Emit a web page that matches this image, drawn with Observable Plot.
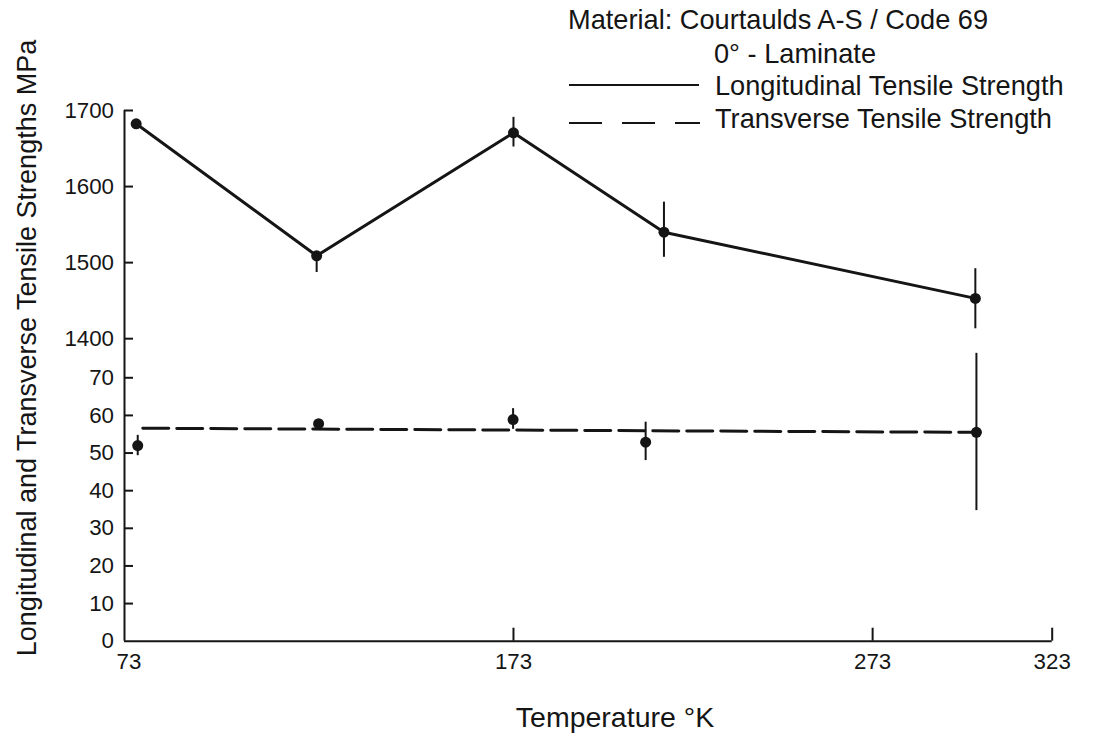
<!DOCTYPE html>
<html>
<head>
<meta charset="utf-8">
<script src="https://cdn.jsdelivr.net/npm/d3@7"></script>
<script src="https://cdn.jsdelivr.net/npm/@observablehq/plot@0.6"></script>
<style>
  body { margin: 0; background: #fff; }
  #wrap { position: relative; width: 1109px; height: 738px; font-family: "Liberation Sans", Arial, sans-serif; }
  #overlay { position: absolute; left: 0; top: 0; pointer-events: none; }
</style>
</head>
<body>
<div id="wrap">
  <div id="chart"></div>
  <svg id="overlay" width="1109" height="738" font-family="Liberation Sans, Arial, sans-serif" fill="#151515">
    <text x="568" y="29" font-size="27.2">Material: Courtaulds A-S / Code 69</text>
    <text x="714" y="63" font-size="27.2">0° - Laminate</text>
    <line x1="569" x2="699" y1="85" y2="85" stroke="#151515" stroke-width="2"></line>
    <text x="715" y="95" font-size="27.2">Longitudinal Tensile Strength</text>
    <line x1="569" x2="700" y1="123" y2="123" stroke="#151515" stroke-width="2" stroke-dasharray="33 20"></line>
    <text x="715" y="128" font-size="27.2">Transverse Tensile Strength</text>
    <text x="615" y="727" font-size="28.5" text-anchor="middle">Temperature °K</text>
    <text transform="translate(36,348) rotate(-90)" font-size="27" text-anchor="middle">Longitudinal and Transverse Tensile Strengths MPa</text>
  </svg>
</div>
<script>
// ---- data ----
const tempsLong = [76.0, 122.4, 173.0, 214.9, 301.6];          // K
const longStrength = [1682.5, 1509, 1670.7, 1540, 1453];       // MPa
const longLow = [1682.5, 1487, 1652, 1507, 1413];
const longHigh = [1682.5, 1512, 1691, 1579.5, 1492];

const tempsTrans = [76.4, 122.9, 172.9, 209.8, 301.9];         // K
const transStrength = [52.0, 57.8, 58.9, 52.9, 55.5];          // MPa
const transLow = [49.3, 57.8, 56.3, 48.0, 34.7];
const transHigh = [54.7, 57.8, 61.8, 58.2, 76.5];

const transTrendT = [77.7, 301.6];
const transTrendS = [56.6, 55.5];

const xTickValues = [73, 173, 273, 323];
const yTicksLower = [0, 10, 20, 30, 40, 50, 60, 70];
const yTicksUpper = [1400, 1500, 1600, 1700];

// ---- broken axes: map to a virtual continuous coordinate ----
const xmap = d3.scaleLinear().domain([73, 173, 323]).range([0, 100, 238.5]);
const upper = d3.scaleLinear().domain([1400, 1700]).range([80.39, 141.03]);

const longData = tempsLong.map((t, i) => ({
  x: xmap(t), y: upper(longStrength[i]), lo: upper(longLow[i]), hi: upper(longHigh[i])
}));
const transData = tempsTrans.map((t, i) => ({
  x: xmap(t), y: transStrength[i], lo: transLow[i], hi: transHigh[i]
}));
const trend = transTrendT.map((t, i) => ({ x: xmap(t), y: transTrendS[i] }));

const ink = "#151515";
const fs = 22.3;
const chart = Plot.plot({
  width: 1109,
  height: 738,
  marginLeft: 124,
  marginRight: 57.3,
  marginTop: 110,
  marginBottom: 97.3,
  style: { fontFamily: '"Liberation Sans", Arial, sans-serif', fontSize: fs + "px", color: ink, background: "white" },
  x: { domain: [0, 238.5] },
  y: { domain: [0, 141.03] },
  marks: [
    // x axis: inward ticks and labels
    Plot.axisX(xTickValues.slice(1).map(xmap), { tickSize: -13, tickFormat: () => "", strokeWidth: 2, stroke: ink, label: null }),
    Plot.axisX(xTickValues.slice(1).map(xmap), { tickSize: 0, tickPadding: 12, fontSize: fs, fill: ink,
      tickFormat: v => String(Math.round(xmap.invert(v))), label: null }),
    Plot.axisX(xTickValues.slice(0, 1).map(xmap), { tickSize: 0, tickPadding: 12, dx: 4.5, fontSize: fs, fill: ink,
      tickFormat: v => String(Math.round(xmap.invert(v))), label: null }),
    // y axis: inward ticks and two label sets
    Plot.axisY([...yTicksLower.slice(1), ...yTicksUpper.map(upper)], { tickSize: -9, tickFormat: () => "", strokeWidth: 2, stroke: ink, label: null }),
    Plot.axisY(yTicksLower, { tickSize: 0, tickPadding: 10.5, fontSize: fs, fill: ink, tickFormat: d => String(d), label: null }),
    Plot.axisY(yTicksUpper.map(upper), { tickSize: 0, tickPadding: 10.5, fontSize: fs, fill: ink,
      tickFormat: v => String(Math.round(upper.invert(v))), label: null }),
    // axis lines
    Plot.ruleY([0], { stroke: ink, strokeWidth: 2 }),
    Plot.ruleX([0], { stroke: ink, strokeWidth: 2 }),
    // longitudinal
    Plot.ruleX(longData.filter(d => d.hi > d.lo), { x: "x", y1: "lo", y2: "hi", stroke: ink, strokeWidth: 2 }),
    Plot.line(longData, { x: "x", y: "y", stroke: ink, strokeWidth: 3 }),
    Plot.dot(longData, { x: "x", y: "y", r: 5.5, fill: ink }),
    // transverse
    Plot.ruleX(transData.filter(d => d.hi > d.lo), { x: "x", y1: "lo", y2: "hi", stroke: ink, strokeWidth: 2 }),
    Plot.line(trend, { x: "x", y: "y", stroke: ink, strokeWidth: 3, strokeDasharray: "26 8" }),
    Plot.dot(transData, { x: "x", y: "y", r: 5.5, fill: ink })
  ]
});
document.getElementById("chart").appendChild(chart);
</script>
</body>
</html>
